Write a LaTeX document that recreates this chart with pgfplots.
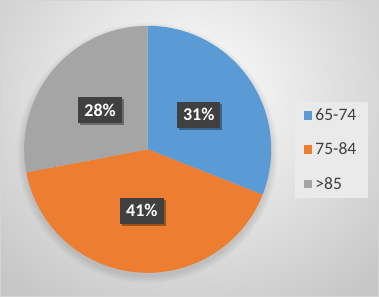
\documentclass[border=0pt]{standalone}
\usepackage{pgfplots}
\pgfplotsset{compat=1.18}
\usetikzlibrary{shadows}
\usepackage{fontspec}
\setmainfont{Carlito}
\definecolor{cblue}{HTML}{5B9BD5}
\definecolor{corange}{HTML}{ED7D31}
\definecolor{cgray}{HTML}{A5A5A5}
\definecolor{lblbox}{HTML}{404040}
\definecolor{legtext}{HTML}{404040}
\definecolor{legfill}{HTML}{EAEAEA}
\definecolor{bgout}{HTML}{C6C6C6}
\definecolor{frame}{HTML}{D4D4D4}
\newcommand{\legfont}{\fontsize{17.5bp}{20bp}\selectfont}
\tikzset{lbl/.style={fill=lblbox, text=white, font=\bfseries\fontsize{18bp}{20bp}\selectfont,
    inner xsep=6bp, inner ysep=0bp, minimum height=26bp,
    drop shadow={shadow xshift=2bp, shadow yshift=-2bp, opacity=0.35, fill=black}}}
\begin{document}
\begin{tikzpicture}
\begin{scope}
\clip (0,0) rectangle (379bp,297bp);
\fill[bgout] (0,0) rectangle (379bp,297bp);
\shade[inner color=white, outer color=bgout] (190bp,200bp) ellipse (270bp and 250bp);
\foreach \r in {124,125.5,127,128.5,130}
  \fill[black, opacity=0.025] (147.7bp,144bp) circle (\r bp);
\end{scope}
\draw[frame, line width=1bp] (0.5bp,0.5bp) rectangle (378.5bp,296.5bp);
\begin{axis}[at={(147.7bp,147.7bp)}, anchor=center, scale only axis,
  width=247bp, height=247bp, xmin=-1, xmax=1, ymin=-1, ymax=1,
  hide axis, clip=false, samples=90,
  legend style={at={(1.095,0.694)}, anchor=north west, draw=none, fill=legfill,
    text=legtext, row sep=15bp,
    nodes={inner xsep=3bp, inner ysep=3bp, text=legtext},
    inner xsep=9bp, inner ysep=4bp},
  legend cell align=left,
  legend image code/.code={\fill[#1] (0bp,-4.3bp) rectangle (8.6bp,4.3bp);},
]
% values: 65-74 = 31, 75-84 = 41, >85 = 28 (percent), clockwise from top
\addplot[fill=cblue, draw=none, domain=90:{90-3.6*31}] ({cos(x)},{sin(x)}) -- (axis cs:0,0) -- cycle;
\addlegendentry{\legfont 65-74}
\addplot[fill=corange, draw=none, domain={90-3.6*31}:{90-3.6*(31+41)}] ({cos(x)},{sin(x)}) -- (axis cs:0,0) -- cycle;
\addlegendentry{\legfont 75-84}
\addplot[fill=cgray, draw=none, domain={90-3.6*(31+41)}:{90-3.6*(31+41+28)}] ({cos(x)},{sin(x)}) -- (axis cs:0,0) -- cycle;
\addlegendentry{\legfont >85}
\node[lbl] at (axis cs:{0.5*cos(90-3.6*31/2)},{0.5*sin(90-3.6*31/2)}) {31\%};
\node[lbl] at (axis cs:{0.5*cos(90-3.6*(31+41/2))},{0.5*sin(90-3.6*(31+41/2))}) {41\%};
\node[lbl] at (axis cs:{0.5*cos(90-3.6*(31+41+28/2))},{0.5*sin(90-3.6*(31+41+28/2))}) {28\%};
\end{axis}
\end{tikzpicture}
\end{document}
